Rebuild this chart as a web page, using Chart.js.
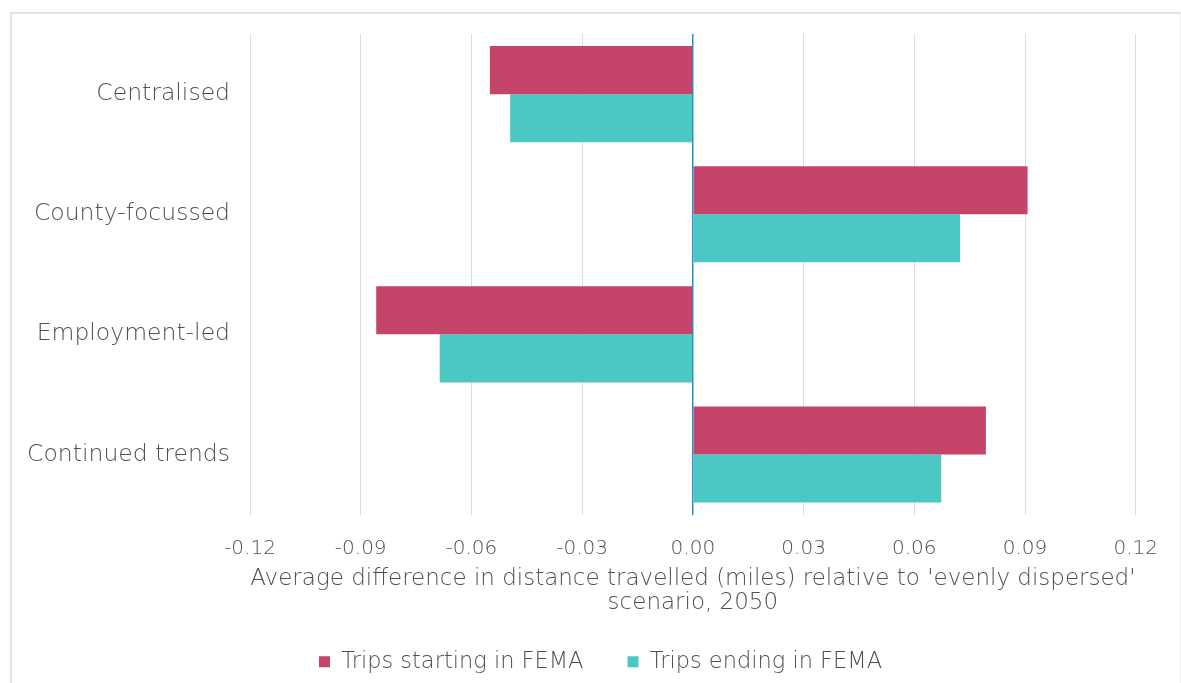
<!DOCTYPE html>
<html>
<head>
<meta charset="utf-8">
<script src="https://cdn.jsdelivr.net/npm/chart.js@4.4.0/dist/chart.umd.min.js"></script>
<style>
    html, body { margin: 0; padding: 0; background: #ffffff; overflow: hidden; }
    #frame {
        position: absolute; left: 10px; top: 12px;
        width: 1168px; height: 700px;
        border-left: 2px solid #e3e3e3; border-top: 2px solid #e3e3e3; border-right: 1px solid #eeeeee;
    }
    #wrap { position: absolute; left: 0; top: -6px; width: 1168px; height: 675px; }
</style>
</head>
<body>
<div id="frame"><div id="wrap"><canvas id="barChartFema"></canvas></div></div>
<script>
var categories = ["Centralised", "County-focussed", "Employment-led", "Continued trends"];
var tripsStarting = [-0.055, 0.0907, -0.0858, 0.0794];
var tripsEnding = [-0.0495, 0.0724, -0.0686, 0.0673];
var seriesNames = ["Trips starting in FEMA", "Trips ending in FEMA"];
var axisTitle = ["Average difference in distance travelled (miles) relative to 'evenly dispersed'", "scenario, 2050"];

var fontName = "'DejaVu Sans', sans-serif";
var textColour = '#505050';

// nudge the legend a little to the right, like the original
var legendShift = {
    id: 'legendShift',
    afterLayout: function (chart) {
        var lg = chart.legend;
        if (!lg) return;
        lg.left += 23;
        lg.right += 23;
        if (typeof lg.adjustHitBoxes === 'function') lg.adjustHitBoxes();
    }
};

var chartDiv = document.getElementById("barChartFema");
var myChart = new Chart(chartDiv, {
    type: 'bar',
    data: {
        labels: categories,
        datasets: [
            {
                label: seriesNames[0],
                data: tripsStarting,
                backgroundColor: '#C4446A',
                categoryPercentage: 0.8,
                barPercentage: 1.0
            },
            {
                label: seriesNames[1],
                data: tripsEnding,
                backgroundColor: '#4BC8C4',
                categoryPercentage: 0.8,
                barPercentage: 1.0
            }]
    },
    options: {
        indexAxis: 'y',
        responsive: true,
        maintainAspectRatio: false,
        animation: false,
        layout: {
            padding: { top: 1, right: 37, bottom: 0, left: 0 }
        },
        scales: {
            x: {
                min: -0.12,
                max: 0.12,
                border: { display: false },
                grid: {
                    drawTicks: false,
                    color: function (ctx) {
                        return ctx.tick && ctx.tick.value === 0 ? '#1E8FD5' : '#dcdcdc';
                    },
                    lineWidth: function (ctx) {
                        return ctx.tick && ctx.tick.value === 0 ? 1.5 : 1;
                    }
                },
                ticks: {
                    stepSize: 0.03,
                    padding: 22,
                    color: textColour,
                    font: { family: fontName, size: 20, weight: 200 },
                    callback: function (v) {
                        return (Math.round(v * 100) / 100).toFixed(2);
                    }
                },
                title: {
                    display: true,
                    text: axisTitle,
                    color: textColour,
                    font: { family: fontName, size: 23, weight: 200, lineHeight: 1.03 },
                    padding: { top: 4, bottom: -8 }
                },
                afterFit: function (scale) {
                    scale.height = 92;
                }
            },
            y: {
                border: { display: false },
                grid: { display: false },
                ticks: {
                    padding: 12,
                    color: textColour,
                    font: { family: fontName, size: 23.5, weight: 200 }
                },
                afterFit: function (scale) {
                    scale.width = 238;
                }
            }
        },
        plugins: {
            tooltip: { enabled: false },
            legend: {
                display: true,
                position: 'bottom',
                labels: {
                    usePointStyle: true,
                    pointStyle: 'rect',
                    boxWidth: 11,
                    boxHeight: 11,
                    padding: 44,
                    color: textColour,
                    font: { family: fontName, size: 22.5, weight: 200 }
                }
            }
        }
    },
    plugins: [legendShift]
});
</script>
</body>
</html>
